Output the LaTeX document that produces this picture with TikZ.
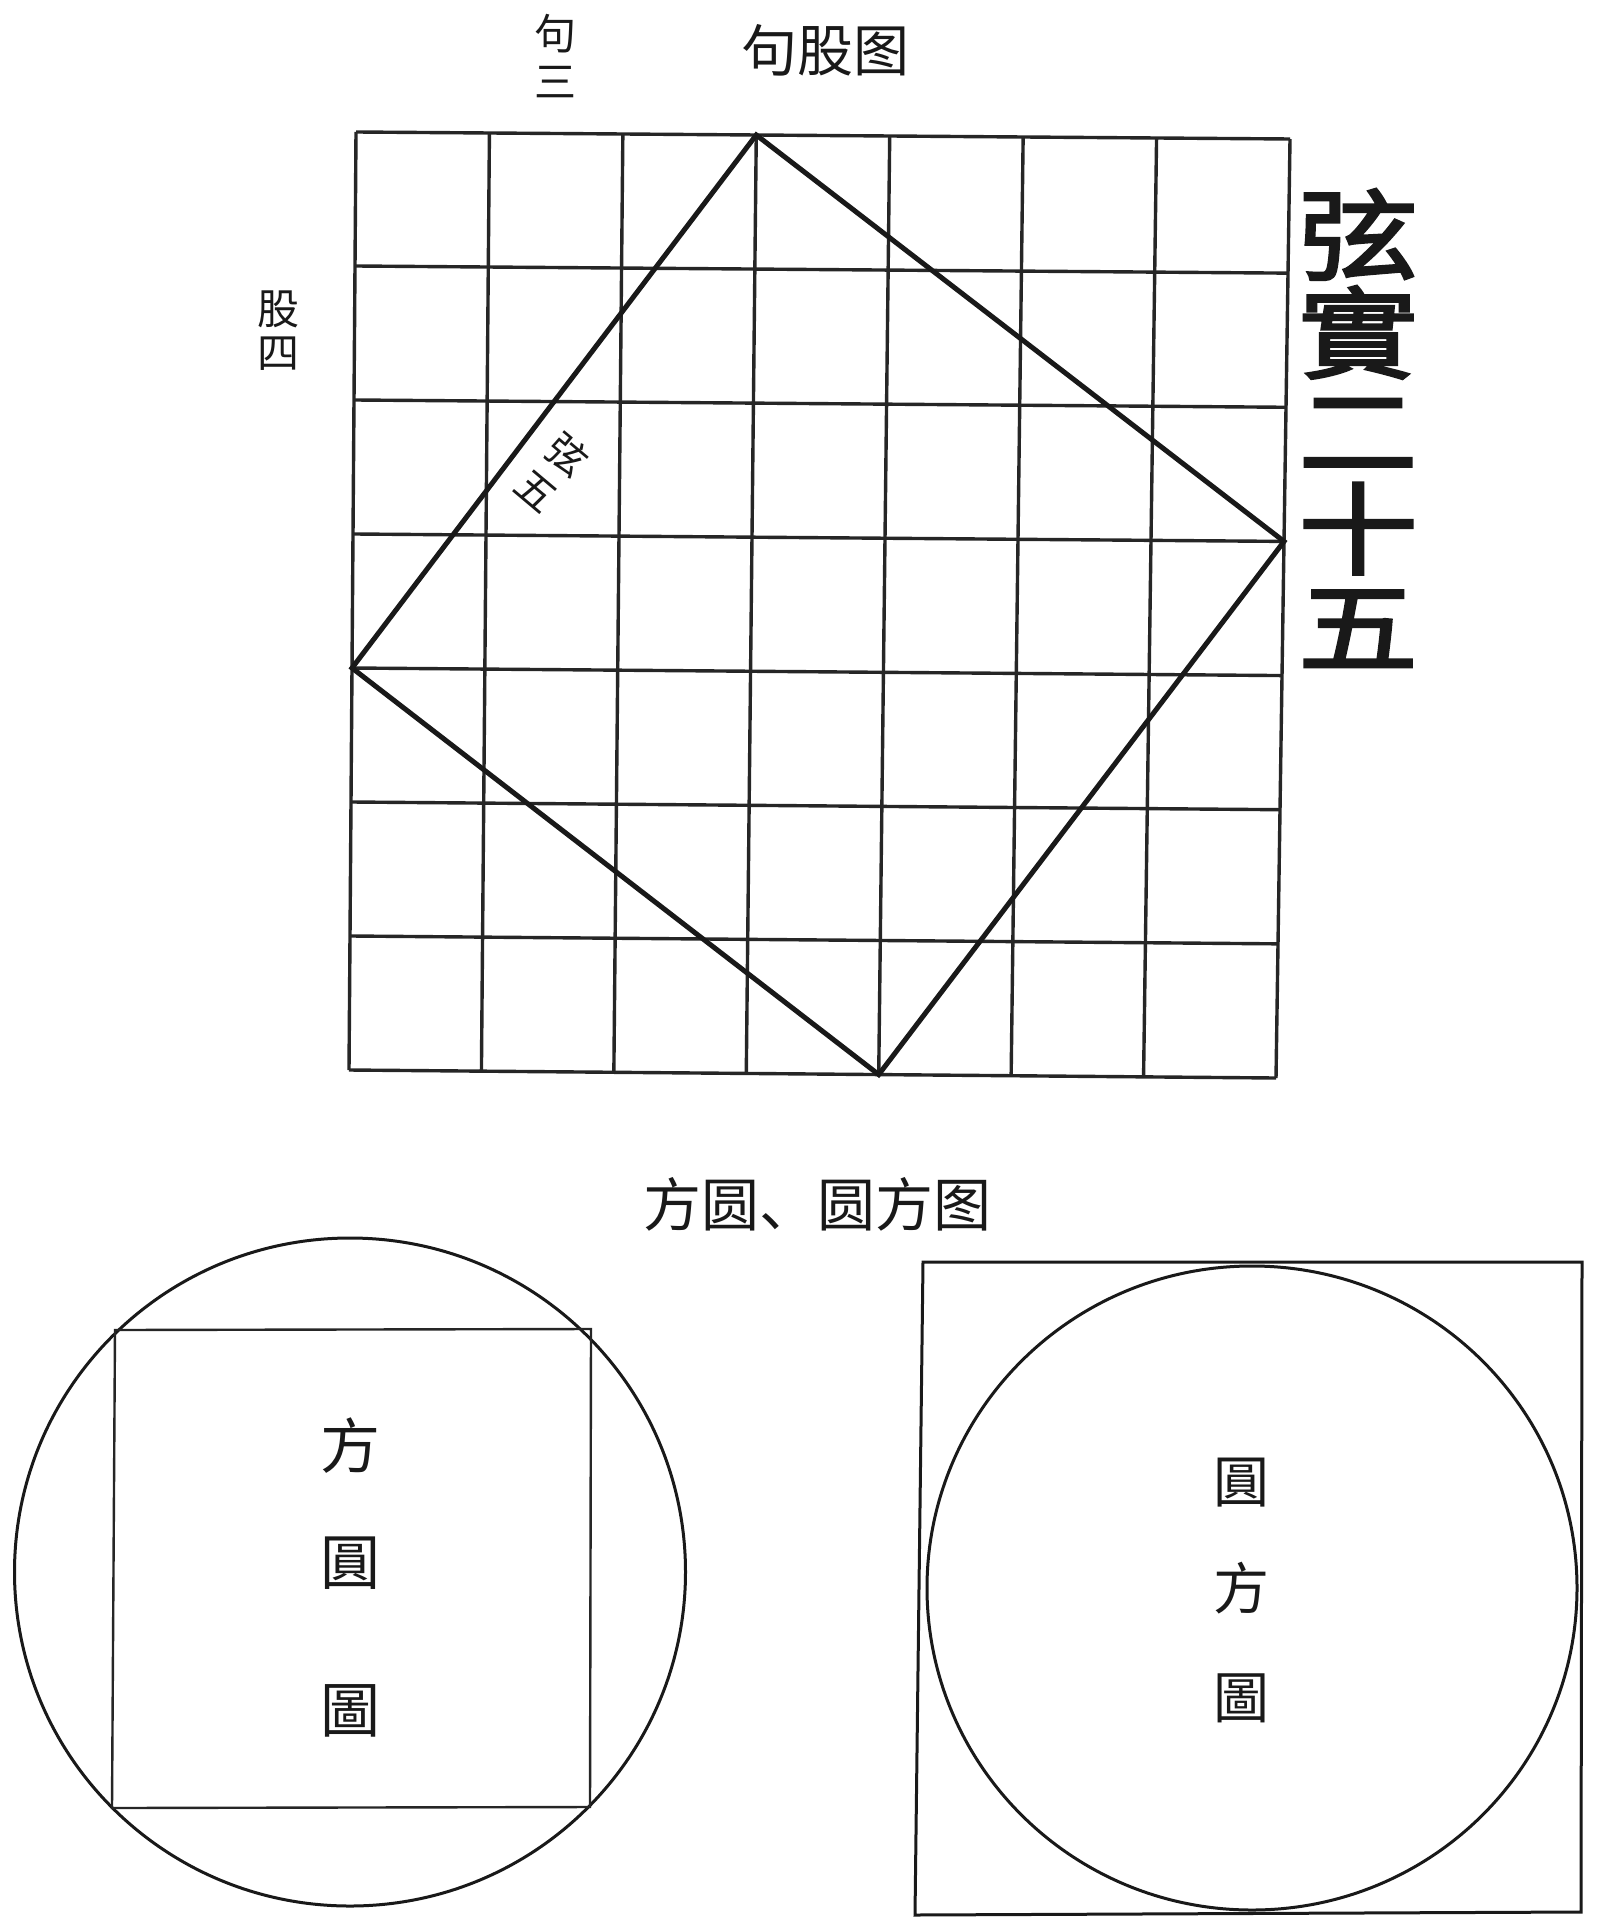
\documentclass[tikz,border=0pt]{standalone}
\usepackage{fontspec}
\newfontfamily\cjk{Noto Sans CJK SC}
\newfontfamily\cjkbold{Noto Sans CJK SC}[FakeBold=2.5,FakeStretch=1.2]
\usetikzlibrary{calc}
\begin{document}
\begin{tikzpicture}[x=0.5pt,y=-0.5pt,
  gridline/.style={line width=1.7pt,black!85},
  sqside/.style={line width=2.5pt,black!90,line join=miter},
  outline/.style={line width=1.5pt,black!90},
  thin outline/.style={line width=1.2pt,black!85},
  lbl/.style={inner sep=0pt,align=center,text=black!90},
]
\useasboundingbox (0,0) rectangle (1600,1931);

% ---------- 句股图 ----------
\coordinate (A) at (356,132);
\coordinate (B) at (1290,139);
\coordinate (C) at (1276,1078);
\coordinate (D) at (349,1070);
\foreach \i in {0,...,7} {
  \draw[gridline] ($(A)!\i/7!(B)$) -- ($(D)!\i/7!(C)$);
  \draw[gridline] ($(A)!\i/7!(D)$) -- ($(B)!\i/7!(C)$);
}
\coordinate (T) at ($(A)!3/7!(B)$);
\coordinate (R) at ($(B)!3/7!(C)$);
\coordinate (Bo) at ($(D)!4/7!(C)$);
\coordinate (L) at ($(A)!4/7!(D)$);
\draw[sqside] (T) -- (R) -- (Bo) -- (L) -- cycle;

\node[lbl,font=\cjk\fontsize{28}{30}\selectfont] (title1) at (825,50) {句股图};
\node[lbl,font=\cjk\fontsize{21}{24}\selectfont] (gou) at (555,56) {句\\三};
\node[lbl,font=\cjk\fontsize{21}{22}\selectfont] (gu) at (278,331) {股\\四};
\node[lbl,font=\cjk\fontsize{20}{24}\selectfont,rotate=-40] (xian) at (553,472) {弦\\五};
\node[lbl,font=\cjkbold\fontsize{50}{49}\selectfont] (big) at (1358,428) {弦\\實\\二\\十\\五};

% ---------- 方圆、圆方图 ----------
\node[lbl,font=\cjk\fontsize{29}{30}\selectfont] (title2) at (817,1204) {方圆、圆方图};

% left: square in circle
\draw[outline] (350,1572) ellipse [x radius=335.5, y radius=334];
\draw[thin outline] (115,1330) -- (591,1329) -- (590,1807) -- (112,1808) -- cycle;
\node[lbl,font=\cjk\fontsize{30}{30}\selectfont] (l1) at (350,1446) {方};
\node[lbl,font=\cjk\fontsize{30}{30}\selectfont] (l2) at (350,1563) {圓};
\node[lbl,font=\cjk\fontsize{30}{30}\selectfont] (l3) at (350,1711) {圖};

% right: circle in square
\draw[outline] (923,1262) -- (1582,1262) -- (1581,1912) -- (915,1915) -- cycle;
\draw[outline] (1252,1588) ellipse [x radius=325, y radius=322];
\node[lbl,font=\cjk\fontsize{28}{28}\selectfont] (r1) at (1241,1483) {圓};
\node[lbl,font=\cjk\fontsize{28}{28}\selectfont] (r2) at (1241,1588) {方};
\node[lbl,font=\cjk\fontsize{28}{28}\selectfont] (r3) at (1241,1698) {圖};
\end{tikzpicture}
\end{document}
